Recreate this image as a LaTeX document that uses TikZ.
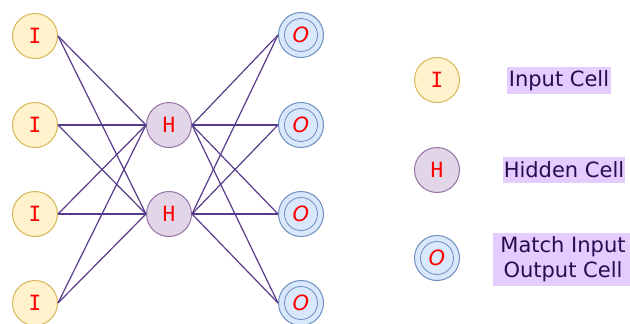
\documentclass[tikz,border=0pt]{standalone}
\usepackage{fontspec}
\setmainfont{DejaVu Sans}
\newfontfamily\letterfont{DejaVu Sans Mono}
\definecolor{infill}{HTML}{FFF2CC}
\definecolor{indraw}{HTML}{D6B656}
\definecolor{hidfill}{HTML}{E1D5E7}
\definecolor{hiddraw}{HTML}{9673A6}
\definecolor{outfill}{HTML}{DAE8FC}
\definecolor{outdraw}{HTML}{6C8EBF}
\definecolor{edgecol}{RGB}{88,58,140}
\definecolor{labtext}{RGB}{40,12,80}
\definecolor{labfill}{HTML}{E5CCFF}
\begin{document}
\begin{tikzpicture}[x=1pt,y=-1pt,
  cell/.style={circle, minimum size=45pt, inner sep=0pt, line width=1pt,
    font=\letterfont\fontsize{21}{21}\selectfont, text=red},
  incell/.style={cell, fill=infill, draw=indraw},
  hidcell/.style={cell, fill=hidfill, draw=hiddraw},
  outcell/.style={cell, fill=outfill, draw=outdraw, font=\itshape\fontsize{21}{21}\selectfont},
  ring/.style={draw=outdraw, line width=0.8pt},
  conn/.style={draw=edgecol, line width=1.2pt},
  legtext/.style={fill=labfill, text=labtext, inner sep=1pt, font=\fontsize{21}{25}\selectfont, align=center}
]
\useasboundingbox (0,0) rectangle (630,324);
% input cells
\node[incell] (i1) at (35,36) {I};
\node[incell] (i2) at (35,125) {I};
\node[incell] (i3) at (35,214) {I};
\node[incell] (i4) at (35,303) {I};
% hidden cells
\node[hidcell] (h1) at (169,125) {H};
\node[hidcell] (h2) at (169,214) {H};
% output cells
\node[outcell] (o1) at (301,35) {O};
\node[outcell] (o2) at (301,125) {O};
\node[outcell] (o3) at (301,214) {O};
\node[outcell] (o4) at (301,303) {O};
\foreach \k in {1,...,4} \draw[ring] (o\k.center) circle (16.5pt);
% connectors
\foreach \a in {1,...,4} \foreach \b in {1,2} \draw[conn] (i\a.east) -- (h\b.west);
\foreach \b in {1,2} \foreach \c in {1,...,4} \draw[conn] (h\b.east) -- (o\c.west);
% legend
\node[incell] (li) at (437,80) {I};
\node[hidcell] (lh) at (437,170) {H};
\node[outcell] (lo) at (437,258) {O};
\draw[ring] (lo.center) circle (16.5pt);
\node[legtext, minimum width=104pt, minimum height=27pt] (ti) at (559,80.5) {Input Cell};
\node[legtext, minimum width=118pt, minimum height=26pt] (th) at (564,170) {Hidden Cell};
\node[legtext, minimum width=140pt, minimum height=53pt] (to) at (563,259.5) {Match Input\\Output Cell};
\end{tikzpicture}
\end{document}
